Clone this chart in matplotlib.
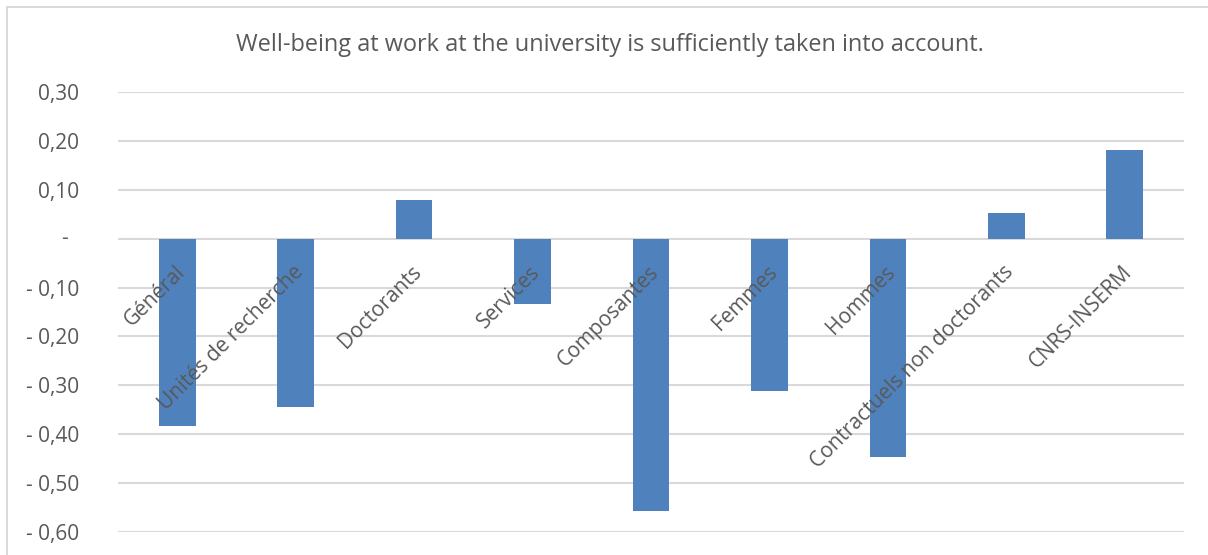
import matplotlib
matplotlib.use("Agg")
import matplotlib.pyplot as plt
import matplotlib.transforms as mtransforms
from matplotlib.lines import Line2D

plt.rcParams['font.family'] = ['Open Sans', 'DejaVu Sans']

title = "Well-being at work at the university is sufficiently taken into account."
categories = ["Général", "Unités de recherche", "Doctorants", "Services",
              "Composantes", "Femmes", "Hommes",
              "Contractuels non doctorants", "CNRS-INSERM"]
values = [-0.384, -0.345, 0.079, -0.133, -0.558, -0.311, -0.447, 0.052, 0.181]
yticks = [0.30, 0.20, 0.10, 0.0, -0.10, -0.20, -0.30, -0.40, -0.50, -0.60]

W, H, DPI = 1208, 555, 100
fig = plt.figure(figsize=(W / DPI, H / DPI), dpi=DPI)
fig.patch.set_facecolor("white")

TEXT = "#595959"
GRID = "#D9D9D9"
BAR = "#4F81BD"

# chart frame (left and top edges visible)
fig.add_artist(Line2D([7 / W, 7 / W], [0, 1 - 7 / H], transform=fig.transFigure,
                      color=GRID, lw=1.4))
fig.add_artist(Line2D([7 / W, 1], [1 - 7 / H, 1 - 7 / H], transform=fig.transFigure,
                      color=GRID, lw=1.4))

left, right = 118 / W, 1184 / W
top, bottom = 1 - 92 / H, 1 - 532 / H
ax = fig.add_axes([left, bottom, right - left, top - bottom])
ax.set_facecolor("none")

x = list(range(len(categories)))
ax.bar(x, values, width=0.31, color=BAR, zorder=3)

ax.set_xlim(-0.5, len(categories) - 0.5)
ax.set_ylim(-0.60, 0.30)
for spine in ax.spines.values():
    spine.set_visible(False)
ax.set_xticks([])
ax.set_yticks(yticks)
# pad is in points: 39 px at 100 dpi
ax.tick_params(axis="y", length=0, pad=39 * 72 / DPI)
ax.yaxis.grid(True, color=GRID, lw=1.5, zorder=0)
ax.set_axisbelow(True)


def fmt(v):
    if abs(v) < 1e-9:
        return ""
    s = f"{abs(v):.2f}".replace(".", ",")
    return s if v > 0 else "- " + s


ax.set_yticklabels([fmt(v) for v in yticks], fontsize=15, color=TEXT)
# zero is shown as a lone dash, set back from the right edge of the labels
zero_y = ax.transData.transform((0, 0.0))[1] / fig.bbox.height
fig.text(64 / W, zero_y, "-", fontsize=15, color=TEXT, ha="center", va="center")

# category labels sit just below the zero line, rotated 45 degrees
off = mtransforms.ScaledTranslation(-3 / DPI, -23 / DPI, fig.dpi_scale_trans)
for xi, name in zip(x, categories):
    ax.text(xi, 0.0, name, rotation=45, rotation_mode="anchor",
            ha="right", va="top", fontsize=15, color=TEXT,
            transform=ax.transData + off, zorder=4)

fig.text(610 / W, 1 - 45 / H, title, ha="center", va="center",
         fontsize=16.9, color=TEXT)

fig.savefig("out.png", dpi=DPI)
